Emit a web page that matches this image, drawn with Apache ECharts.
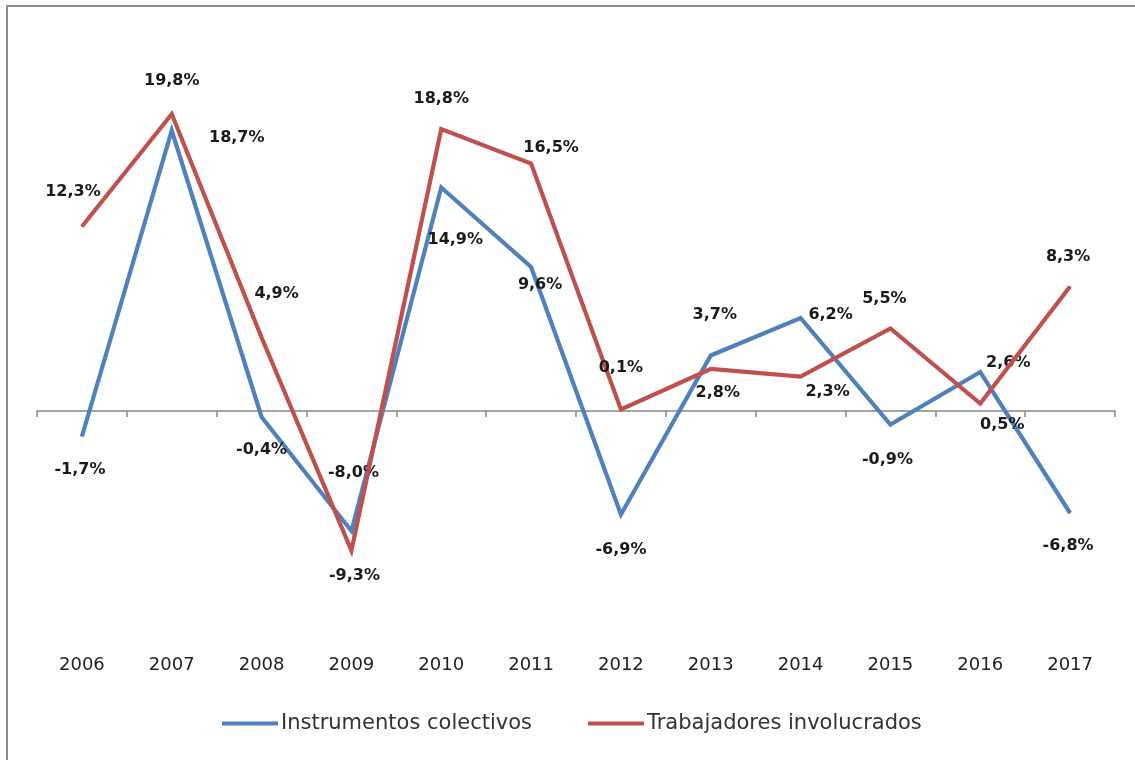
<!DOCTYPE html>
<html>
<head>
<meta charset="utf-8">
<script src="https://cdn.jsdelivr.net/npm/echarts@6/dist/echarts.min.js"></script>
<style>
html,body{margin:0;padding:0;background:#fff;}
#chart{width:1135px;height:760px;}
</style>
</head>
<body>
<div id="chart"></div>
<script>
// ---- data ----
var categories = ['2006','2007','2008','2009','2010','2011','2012','2013','2014','2015','2016','2017'];
var instrumentos = [-1.7, 18.7, -0.4, -8.0, 14.9, 9.6, -6.9, 3.7, 6.2, -0.9, 2.6, -6.8];
var trabajadores = [12.3, 19.8, 4.9, -9.3, 18.8, 16.5, 0.1, 2.8, 2.3, 5.5, 0.5, 8.3];
var seriesNames = ['Instrumentos colectivos', 'Trabajadores involucrados'];

// ---- label layout (pixel offsets from each point) ----
var offsetsInstr = [[-2,33],[65,7],[0,33],[2,-58],[14,52],[9,18],[0,35],[4,-41],[30,-3],[-3,35],[28,-9],[-2,33]];
var offsetsTrab  = [[-9,-35],[0,-33],[15,-44],[3,25],[0,-30],[20,-16],[0,-42],[7,24],[27,15],[-6,-30],[22,21],[-2,-30]];

function fmt(v){ return v.toFixed(1).replace('.', ',') + '%'; }
function buildData(vals, offs){
  return vals.map(function(v,i){
    return { value: v, label: { offset: offs[i] } };
  });
}

var chart = echarts.init(document.getElementById('chart'));
var labelStyle = {
  show: true,
  position: 'inside',
  formatter: function(p){ return fmt(p.value); },
  fontFamily: 'DejaVu Sans',
  fontWeight: 'bold',
  fontSize: 16,
  color: '#1a1a1a'
};
chart.setOption({
  animation: false,
  backgroundColor: '#ffffff',
  graphic: [{
    type: 'rect',
    shape: { x: 7, y: 6, width: 1140, height: 770 },
    style: { fill: 'none', stroke: '#8c8c8c', lineWidth: 2 },
    silent: true
  }],
  grid: { left: 37, right: 20, top: 36, bottom: 124 },
  legend: {
    bottom: 21,
    left: 217,
    itemWidth: 56,
    itemHeight: 4,
    itemGap: 56,
    icon: 'rect',
    textStyle: { fontFamily: 'DejaVu Sans', fontSize: 21, color: '#333', padding: [0,0,0,-2] },
    data: seriesNames
  },
  xAxis: [{
    type: 'category',
    data: categories,
    boundaryGap: true,
    axisLine: { onZero: true, lineStyle: { color: '#868686', width: 1.5 } },
    axisTick: { show: true, length: 6, lineStyle: { color: '#868686', width: 1.5 } },
    axisLabel: { show: false },
    splitLine: { show: false }
  }, {
    type: 'category',
    data: categories,
    position: 'bottom',
    boundaryGap: true,
    axisLine: { show: false, onZero: false },
    axisTick: { show: false },
    axisLabel: { margin: 20, fontFamily: 'DejaVu Sans', fontSize: 18, color: '#222' }
  }],
  yAxis: {
    type: 'value',
    min: -15, max: 25, interval: 5,
    show: false,
    splitLine: { show: false }
  },
  series: [{
    name: seriesNames[0],
    type: 'line',
    xAxisIndex: 0,
    data: buildData(instrumentos, offsetsInstr),
    symbol: 'circle', symbolSize: 1, showSymbol: true,
    lineStyle: { color: '#4F81BD', width: 4.2, join: 'miter' },
    itemStyle: { color: '#4F81BD' },
    label: labelStyle,
    z: 2
  }, {
    name: seriesNames[1],
    type: 'line',
    xAxisIndex: 0,
    data: buildData(trabajadores, offsetsTrab),
    symbol: 'circle', symbolSize: 1, showSymbol: true,
    lineStyle: { color: '#C0504D', width: 4.2, join: 'miter' },
    itemStyle: { color: '#C0504D' },
    label: labelStyle,
    z: 3
  }]
});
</script>
</body>
</html>
